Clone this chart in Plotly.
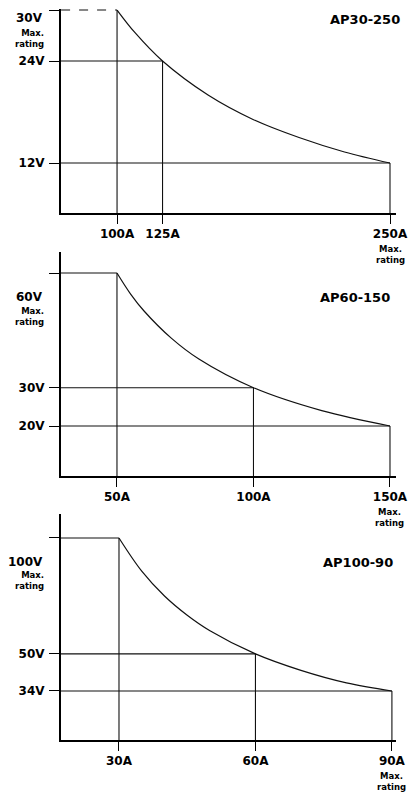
import plotly.graph_objects as go

FONT = "DejaVu Sans"

# ---------------- data ----------------
models = ["AP30-250", "AP60-150", "AP100-90"]

# current ticks (A): [corner, mid, max rating]
p1_current = [100, 125, 250]
p2_current = [50, 100, 150]
p3_current = [30, 60, 90]

# voltage ticks (V): [max rating, mid, low]
p1_voltage = [30, 24, 12]
p2_voltage = [60, 30, 20]
p3_voltage = [100, 50, 34]

# constant-power curve readings
p1_curve_i = [100, 110, 125, 150, 175, 200, 225, 250]
p1_curve_v = [30, 27.3, 24, 20, 17.1, 15, 13.3, 12]
p2_curve_i = [50, 55, 60, 70, 80, 100, 125, 150]
p2_curve_v = [60, 54.5, 50, 42.9, 37.5, 30, 24, 20]
p3_curve_i = [30, 35, 40, 45, 50, 60, 70, 80, 90]
p3_curve_v = [100, 85.7, 75, 66.7, 60, 50, 42.9, 37.5, 34]

current_labels = [["100A", "125A", "250A"], ["50A", "100A", "150A"], ["30A", "60A", "90A"]]
voltage_labels = [["30V", "24V", "12V"], ["60V", "30V", "20V"], ["100V", "50V", "34V"]]

panels = [
    (p1_current, p1_voltage, p1_curve_i, p1_curve_v),
    (p2_current, p2_voltage, p2_curve_i, p2_curve_v),
    (p3_current, p3_voltage, p3_curve_i, p3_curve_v),
]

# ---------------- layout settings ----------------
W, H = 415, 792
ML, MR = 61, 19
x_ranges = [[69.2, 253.3], [29.5, 152.2], [17.25, 90.9]]
y_ranges = [[6.12, 30.12], [6.93, 65.49], [12.86, 110.35]]
y_domains_px = [(9, 213), (252, 476), (514, 740)]
title_px = [(402, 19), (392, 297), (395, 562)]
vmax_shift = [-8, -24, -24]
vmax_sub_shift = [-28, -44, -43]
plateau_dash = ["dash", "solid", "solid"]

fig = go.Figure()
layout = dict(
    width=W, height=H,
    margin=dict(l=ML, r=MR, t=0, b=0),
    paper_bgcolor="white", plot_bgcolor="white",
    showlegend=False,
    font=dict(family=FONT, color="black"),
)
annotations = []
plot_w = W - ML - MR

for k, (cur, volt, ci, cv) in enumerate(panels):
    n = "" if k == 0 else str(k + 1)
    xa, ya = "x" + n, "y" + n
    imin, imid, imax = cur
    vmax, vmid, vlow = volt

    # max-voltage plateau (from 0 A, clipped by axis)
    fig.add_trace(go.Scatter(
        x=[0, imin], y=[vmax, vmax], mode="lines",
        line=dict(color="#111", width=1.1, dash=plateau_dash[k]),
        xaxis=xa, yaxis=ya, hoverinfo="skip"))
    # reference rectangles (from 0 A / 0 V, clipped by axes)
    fig.add_trace(go.Scatter(
        x=[imin, imin, None, 0, imid, None, imid, imid, None, 0, imax, None, imax, imax],
        y=[vmax, 0, None, vmid, vmid, None, vmid, 0, None, vlow, vlow, None, vlow, 0],
        mode="lines", line=dict(color="#111", width=1.1),
        xaxis=xa, yaxis=ya, hoverinfo="skip"))
    # constant power curve
    fig.add_trace(go.Scatter(
        x=ci, y=cv, mode="lines", line=dict(color="#111", width=1.2, shape="spline"),
        xaxis=xa, yaxis=ya, hoverinfo="skip"))

    y0 = 1 - y_domains_px[k][1] / H
    y1 = 1 - y_domains_px[k][0] / H
    layout["xaxis" + n] = dict(
        domain=[0, 1], anchor=ya, range=x_ranges[k],
        showgrid=False, zeroline=False, showline=True, linewidth=2, linecolor="black",
        tickmode="array", tickvals=cur, ticktext=current_labels[k],
        ticks="outside", ticklen=9, tickwidth=1, tickcolor="black",
        tickfont=dict(family=FONT, size=12, weight="bold", color="black"),
    )
    layout["yaxis" + n] = dict(
        domain=[y0, y1], anchor=xa, range=y_ranges[k],
        showgrid=False, zeroline=False, showline=True, linewidth=2, linecolor="black",
        tickmode="array", tickvals=volt, ticktext=[""] + voltage_labels[k][1:],
        ticks="outside", ticklen=10, tickwidth=1, tickcolor="black",
        ticklabelstandoff=2,
        tickfont=dict(family=FONT, size=12, weight="bold", color="black"),
    )

    # model title
    tx, ty = title_px[k]
    annotations.append(dict(
        text=models[k], xref="paper", yref="paper",
        x=(tx - ML) / plot_w, y=1 - ty / H, xanchor="right", yanchor="middle",
        showarrow=False, font=dict(family=FONT, size=13, weight="bold", color="black")))
    # max voltage label
    annotations.append(dict(
        text=voltage_labels[k][0], xref="paper", yref=ya,
        x=(45 - ML) / plot_w, y=vmax, yshift=vmax_shift[k], xanchor="right", yanchor="middle",
        showarrow=False, font=dict(family=FONT, size=12, weight="bold", color="black")))
    annotations.append(dict(
        text="Max.<br>rating", xref="paper", yref=ya, align="right",
        x=(46 - ML) / plot_w, y=vmax, yshift=vmax_sub_shift[k], xanchor="right", yanchor="middle",
        showarrow=False, font=dict(family=FONT, size=8.5, weight="bold", color="black")))
    # max current sub-label
    annotations.append(dict(
        text="Max.<br>rating", xref=xa, yref=ya + " domain", align="center",
        x=imax, y=0, yshift=-29, xanchor="center", yanchor="top",
        showarrow=False, font=dict(family=FONT, size=8.5, weight="bold", color="black")))

layout["annotations"] = annotations
fig.update_layout(**layout)
fig.write_html(
    "out.html",
    config={"displayModeBar": False, "staticPlot": True},
    post_script="document.body.style.margin='0px';document.body.style.overflow='hidden';",
)
